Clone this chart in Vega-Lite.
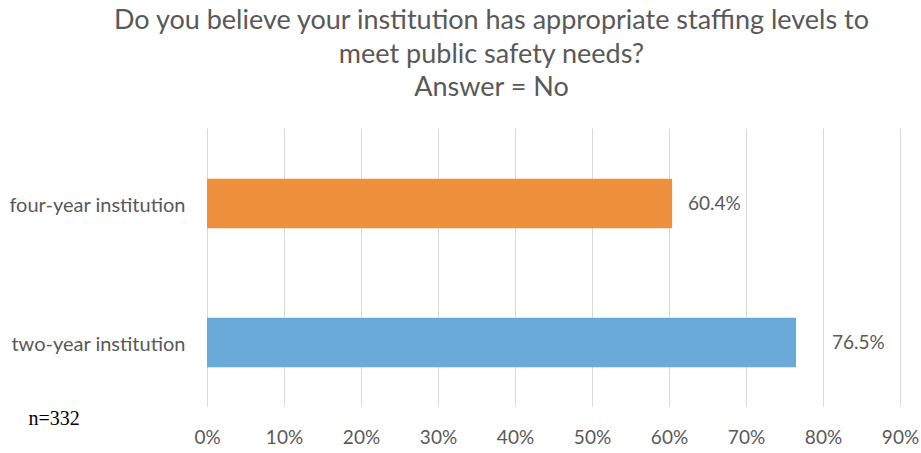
{
  "$schema": "https://vega.github.io/schema/vega-lite/v6.json",
  "width": 693,
  "height": 280,
  "autosize": {"type": "none"},
  "padding": {"left": 207, "top": 130, "right": 21, "bottom": 43},
  "background": "white",
  "config": {"view": {"stroke": null}, "font": "Lato"},
  "title": {
    "text": ["Do you believe your institution has appropriate staffing levels to", "meet public safety needs?", "Answer = No"],
    "fontSize": 27,
    "fontWeight": "normal",
    "font": "Lato",
    "color": "#595959",
    "lineHeight": 33.5,
    "anchor": "middle",
    "dx": -62,
    "offset": 28
  },
  "data": {
    "values": [
      {"type": "four-year institution", "value": 0.604, "label": "60.4%"},
      {"type": "two-year institution", "value": 0.765, "label": "76.5%"}
    ]
  },
  "encoding": {
    "y": {
      "field": "type",
      "type": "nominal",
      "sort": ["four-year institution", "two-year institution"],
      "scale": {"paddingInner": 0.645, "paddingOuter": 0.3225, "range": [4, 282]},
      "axis": {
        "title": null,
        "domain": false,
        "ticks": false,
        "labelFontSize": 20,
        "labelColor": "#595959",
        "labelPadding": 22,
        "labelOffset": 2,
        "labelFont": "Lato"
      }
    },
    "x": {
      "field": "value",
      "type": "quantitative",
      "scale": {"domain": [0, 0.9], "nice": false},
      "axis": {
        "values": [0, 0.1, 0.2, 0.3, 0.4, 0.5, 0.6, 0.7, 0.8, 0.9],
        "format": ".0%",
        "domain": false,
        "ticks": false,
        "grid": true,
        "gridColor": "#D9D9D9",
        "gridWidth": 1,
        "labelFlush": false,
        "labelOverlap": false,
        "labelFontSize": 19,
        "labelColor": "#595959",
        "labelPadding": 18,
        "labelFont": "Lato",
        "title": "n=332",
        "titleFont": "Liberation Serif",
        "titleFontSize": 20,
        "titleFontWeight": "normal",
        "titleColor": "#000000",
        "titleAnchor": "start",
        "titleAlign": "left",
        "titleBaseline": "middle",
        "titleX": -179,
        "titleY": 8
      }
    }
  },
  "layer": [
    {
      "mark": {"type": "bar"},
      "encoding": {
        "color": {
          "field": "type",
          "type": "nominal",
          "scale": {"domain": ["four-year institution", "two-year institution"], "range": ["#EF903C", "#6AAAD9"]},
          "legend": null
        }
      }
    },
    {
      "transform": [{"filter": "datum.type === 'four-year institution'"}],
      "mark": {"type": "text", "align": "left", "dx": 16, "fontSize": 19, "color": "#595959", "font": "Lato"},
      "encoding": {"text": {"field": "label"}}
    },
    {
      "transform": [{"filter": "datum.type === 'two-year institution'"}],
      "mark": {"type": "text", "align": "left", "dx": 36, "fontSize": 19, "color": "#595959", "font": "Lato"},
      "encoding": {"text": {"field": "label"}}
    }
  ]
}
